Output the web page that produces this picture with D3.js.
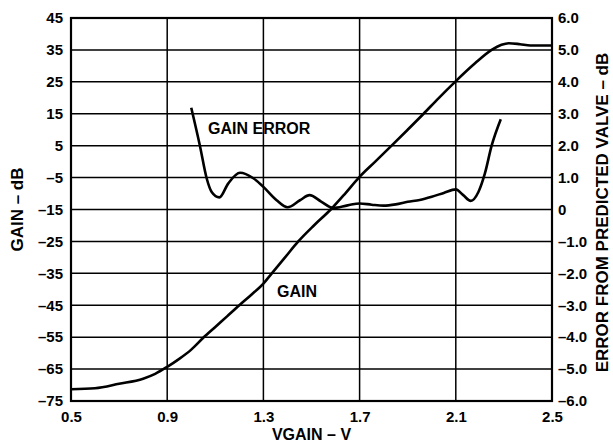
<!DOCTYPE html>
<html>
<head>
<meta charset="utf-8">
<script src="https://cdn.jsdelivr.net/npm/d3@7.9.0/dist/d3.min.js"></script>
<style>
  html, body { margin: 0; padding: 0; background: #fff; }
  svg { display: block; font-family: 'Liberation Sans', Arial, sans-serif; font-weight: bold; }
</style>
</head>
<body>
<div id="chart"></div>
<script>
// X axis ticks (VGAIN in volts)
const xTicks = [0.5, 0.9, 1.3, 1.7, 2.1, 2.5];
// left axis ticks (gain, dB) and right axis ticks (error, dB)
const gainTicks = [45, 35, 25, 15, 5, -5, -15, -25, -35, -45, -55, -65, -75];
const errTicks = [6, 5, 4, 3, 2, 1, 0, -1, -2, -3, -4, -5, -6];

// GAIN curve
const gainV = [0.50, 0.60, 0.70, 0.80, 0.85, 0.90, 0.95, 1.00, 1.05, 1.10, 1.15, 1.20, 1.25, 1.30, 1.335,
  1.39, 1.445, 1.51, 1.58, 1.64, 1.697, 1.765, 1.833, 1.90, 1.966, 2.03, 2.097, 2.18, 2.249, 2.29, 2.32, 2.367, 2.41, 2.50];
const gainDb = [-71.3, -71.0, -69.6, -68.0, -66.5, -64.3, -61.8, -58.9, -55.2, -51.8, -48.4, -45.0, -41.7, -38.2, -35.0,
  -30.0, -25, -20, -15, -10, -5, 0, 5, 10, 15, 20, 25, 30.8, 35, 36.6, 37.1, 36.8, 36.4, 36.4];

// GAIN ERROR curve (right axis)
const errV = [1.00, 1.036, 1.064, 1.085, 1.117, 1.154, 1.203, 1.258, 1.30, 1.355, 1.40, 1.452, 1.492,
  1.54, 1.59, 1.65, 1.70, 1.75, 1.80, 1.85, 1.90, 1.95, 2.00, 2.05, 2.10, 2.131, 2.162, 2.194, 2.221, 2.249, 2.287];
const errDb = [3.19, 2.0, 0.98, 0.55, 0.38, 0.82, 1.15, 0.98, 0.71, 0.29, 0.07, 0.29, 0.45,
  0.25, 0.05, 0.13, 0.19, 0.15, 0.12, 0.16, 0.24, 0.30, 0.40, 0.52, 0.63, 0.45, 0.27, 0.55, 1.13, 2.0, 2.83];

const fmtLeft = d => (d < 0 ? '\u2013' + Math.abs(d) : String(d));
const fmtRight = d => d === 0 ? '0' : (d < 0 ? '\u2013' + Math.abs(d).toFixed(1) : d.toFixed(1));

const width = 613;
const height = 444;
const margin = { top: 18, right: 61, bottom: 43, left: 71 };

const svg = d3.select('#chart')
  .append('svg')
  .attr('width', width)
  .attr('height', height);

const xScale = d3.scaleLinear().domain([0.5, 2.5]).range([margin.left, width - margin.right]);
const yScale = d3.scaleLinear().domain([-75, 45]).range([height - margin.bottom, margin.top]);
const y2Scale = d3.scaleLinear().domain([-6, 6]).range([height - margin.bottom, margin.top]);

// gridlines
const grid = svg.append('g').attr('stroke', '#000').attr('stroke-width', 1.5);
grid.selectAll('line.h')
  .data(gainTicks)
  .join('line')
  .attr('x1', xScale(0.5)).attr('x2', xScale(2.5))
  .attr('y1', d => yScale(d)).attr('y2', d => yScale(d));
grid.selectAll('line.v')
  .data(xTicks.slice(1, -1))
  .join('line')
  .attr('class', 'v')
  .attr('x1', d => xScale(d)).attr('x2', d => xScale(d))
  .attr('y1', yScale(-75)).attr('y2', yScale(45));

// frame
svg.append('rect')
  .attr('x', xScale(0.5)).attr('y', yScale(45))
  .attr('width', xScale(2.5) - xScale(0.5))
  .attr('height', yScale(-75) - yScale(45))
  .attr('fill', 'none').attr('stroke', '#000').attr('stroke-width', 2.2);

// axes (labels only)
const axisFont = g => {
  g.select('.domain').remove();
  g.selectAll('.tick line').remove();
  g.selectAll('text').attr('font-size', 15).attr('font-weight', 'bold')
    .attr('font-family', "'Liberation Sans', Arial, sans-serif").attr('fill', '#000');
};

svg.append('g')
  .attr('transform', `translate(0,${height - margin.bottom})`)
  .call(d3.axisBottom(xScale).tickValues(xTicks).tickFormat(d3.format('.1f')).tickSize(0).tickPadding(10))
  .call(axisFont);

svg.append('g')
  .attr('transform', `translate(${margin.left},0)`)
  .call(d3.axisLeft(yScale).tickValues(gainTicks).tickFormat(fmtLeft).tickSize(0).tickPadding(8))
  .call(axisFont);

svg.append('g')
  .attr('transform', `translate(${width - margin.right},0)`)
  .call(d3.axisRight(y2Scale).tickValues(errTicks).tickFormat(fmtRight).tickSize(0).tickPadding(6))
  .call(axisFont);

// curves
const gainLine = d3.line()
  .x((d, i) => xScale(gainV[i]))
  .y(d => yScale(d))
  .curve(d3.curveMonotoneX);
svg.append('path')
  .attr('d', gainLine(gainDb))
  .attr('fill', 'none').attr('stroke', '#000').attr('stroke-width', 2.6);

const errLine = d3.line()
  .x((d, i) => xScale(errV[i]))
  .y(d => y2Scale(d))
  .curve(d3.curveMonotoneX);
svg.append('path')
  .attr('d', errLine(errDb))
  .attr('fill', 'none').attr('stroke', '#000').attr('stroke-width', 2.6);

// annotations
svg.append('text')
  .attr('x', xScale(1.07)).attr('y', y2Scale(2.36))
  .attr('font-size', 16).text('GAIN ERROR');
svg.append('text')
  .attr('x', xScale(1.357)).attr('y', yScale(-42.5))
  .attr('font-size', 16).text('GAIN');

// axis titles
svg.append('text')
  .attr('x', (margin.left + width - margin.right) / 2).attr('y', 440)
  .attr('text-anchor', 'middle').attr('font-size', 16)
  .text('VGAIN \u2013 V');

svg.append('text')
  .attr('transform', `translate(23,${(margin.top + height - margin.bottom) / 2}) rotate(-90)`)
  .attr('text-anchor', 'middle').attr('font-size', 17)
  .text('GAIN \u2013 dB');

svg.append('text')
  .attr('transform', `translate(608,${(margin.top + height - margin.bottom) / 2 + 3}) rotate(-90)`)
  .attr('text-anchor', 'middle').attr('font-size', 17)
  .text('ERROR FROM PREDICTED VALVE \u2013 dB');
</script>
</body>
</html>
